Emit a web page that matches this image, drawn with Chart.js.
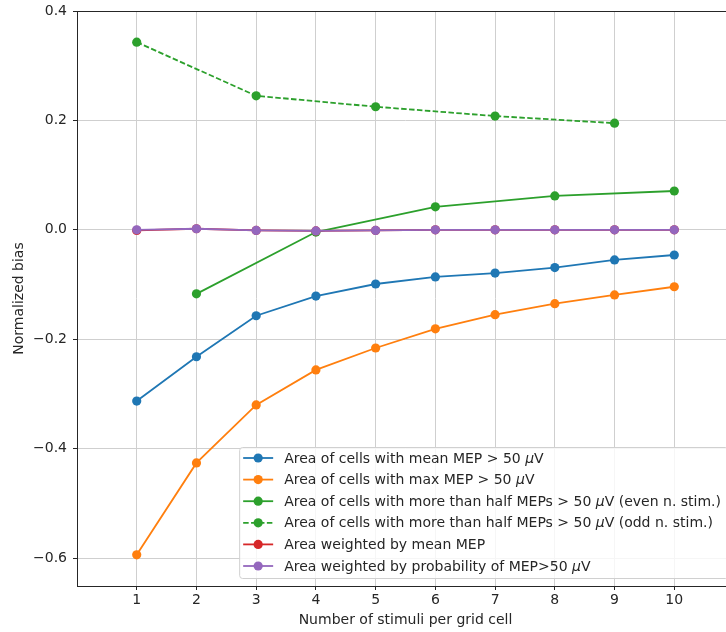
<!DOCTYPE html>
<html>
<head>
<meta charset="utf-8">
<script src="https://cdn.jsdelivr.net/npm/chart.js@4.4.1/dist/chart.umd.min.js"></script>
<style>
  html, body { margin: 0; padding: 0; background: #fff; overflow: hidden; }
  #wrap { width: 742px; height: 632px; position: relative; }
</style>
</head>
<body>
<div id="wrap"><canvas id="chart"></canvas></div>
<script>
// values
var stimuli = [1, 2, 3, 4, 5, 6, 7, 8, 9, 10];
var meanMep = [-0.313, -0.232, -0.157, -0.121, -0.099, -0.086, -0.079, -0.069, -0.055, -0.046];
var maxMep = [-0.594, -0.426, -0.320, -0.256, -0.216, -0.181, -0.155, -0.135, -0.119, -0.104];
var evenStim = [2, 4, 6, 8, 10];
var halfEven = [-0.117, -0.004, 0.042, 0.062, 0.071];
var oddStim = [1, 3, 5, 7, 9];
var halfOdd = [0.343, 0.245, 0.225, 0.208, 0.195];
var weightedMean = [-0.001, 0.002, -0.001, -0.002, -0.001, 0.000, 0.000, 0.000, 0.000, 0.000];
var weightedProb = [0.000, 0.002, -0.001, -0.002, -0.001, 0.000, 0.000, 0.000, 0.000, 0.000];
var yTicks = [-0.6, -0.4, -0.2, 0.0, 0.2, 0.4];
var xTicks = stimuli;

var labels = [
    "Area of cells with mean MEP > 50 \u03bcV",
    "Area of cells with max MEP > 50 \u03bcV",
    "Area of cells with more than half MEPs > 50 \u03bcV (even n. stim.)",
    "Area of cells with more than half MEPs > 50 \u03bcV (odd n. stim.)",
    "Area weighted by mean MEP",
    "Area weighted by probability of MEP>50 \u03bcV"
];
var colors = ["#1f77b4", "#ff7f0e", "#2ca02c", "#2ca02c", "#d62728", "#9467bd"];
var dashes = [[], [], [], [5.5, 2.4], [], []];

var FONT = "DejaVu Sans";
var FS = 14;

function pairs(xs, ys) {
    var out = [];
    for (var i = 0; i < xs.length; i++) out.push({x: xs[i], y: ys[i]});
    return out;
}

var series = [
    pairs(stimuli, meanMep),
    pairs(stimuli, maxMep),
    pairs(evenStim, halfEven),
    pairs(oddStim, halfOdd),
    pairs(stimuli, weightedMean),
    pairs(stimuli, weightedProb)
];

var datasets = series.map(function(d, i) {
    return {
        label: labels[i],
        data: d,
        borderColor: colors[i],
        backgroundColor: colors[i],
        borderWidth: 1.8,
        borderDash: dashes[i],
        pointRadius: 4.6,
        pointBorderWidth: 0,
        pointHoverRadius: 4.6,
        tension: 0,
        order: 6 - i
    };
});

function minus(v) {
    return (v < 0 ? "\u2212" : "") + Math.abs(v).toFixed(1);
}

// draws text, with every mu in italic
function drawMixed(ctx, text, x, y, size) {
    var parts = text.split("\u03bc");
    for (var i = 0; i < parts.length; i++) {
        ctx.font = size + "px '" + FONT + "'";
        ctx.fillText(parts[i], x, y);
        x += ctx.measureText(parts[i]).width;
        if (i < parts.length - 1) {
            ctx.font = "italic " + size + "px '" + FONT + "'";
            ctx.fillText("\u03bc", x, y);
            x += ctx.measureText("\u03bc").width;
        }
    }
}

function mixedWidth(ctx, text, size) {
    var parts = text.split("\u03bc");
    var w = 0;
    for (var i = 0; i < parts.length; i++) {
        ctx.font = size + "px '" + FONT + "'";
        w += ctx.measureText(parts[i]).width;
        if (i < parts.length - 1) {
            ctx.font = "italic " + size + "px '" + FONT + "'";
            w += ctx.measureText("\u03bc").width;
        }
    }
    return w;
}

var framePlugin = {
    id: "frame",
    afterDatasetsDraw: function(chart) {
        var ctx = chart.ctx, a = chart.chartArea;
        ctx.save();
        ctx.strokeStyle = "#262626";
        ctx.lineWidth = 1;
        ctx.strokeRect(a.left + 0.5, a.top + 0.5, a.right - a.left, a.bottom - a.top);

        // legend box, lower right inside the axes
        var rowH = 21.6;
        var maxW = 0;
        labels.forEach(function(t) { maxW = Math.max(maxW, mixedWidth(ctx, t, FS)); });
        var w = 4 + 30 + 11 + maxW + 7;
        var h = rowH * (labels.length - 1) + 23;
        var right = a.right - 6, bottom = a.bottom - 8;
        var left = right - w, top = bottom - h;
        ctx.fillStyle = "rgba(255,255,255,0.8)";
        ctx.strokeStyle = "#d0d0d0";
        ctx.beginPath();
        ctx.roundRect(left + 0.5, top + 0.5, w, h, 3);
        ctx.fill();
        ctx.stroke();
        ctx.textBaseline = "middle";
        for (var i = 0; i < labels.length; i++) {
            var cy = top + 11 + i * rowH;
            ctx.strokeStyle = colors[i];
            ctx.lineWidth = 1.8;
            ctx.setLineDash(dashes[i]);
            ctx.beginPath();
            ctx.moveTo(left + 4, cy);
            ctx.lineTo(left + 34, cy);
            ctx.stroke();
            ctx.setLineDash([]);
            ctx.fillStyle = colors[i];
            ctx.beginPath();
            ctx.arc(left + 19, cy, 4.6, 0, Math.PI * 2);
            ctx.fill();
            ctx.fillStyle = "#262626";
            drawMixed(ctx, labels[i], left + 45, cy + 1, FS);
        }
        ctx.restore();
    }
};

new Chart(document.getElementById("chart"), {
    type: "line",
    data: {datasets: datasets},
    plugins: [framePlugin],
    options: {
        responsive: true,
        maintainAspectRatio: false,
        animation: false,
        layout: {padding: {top: 11, right: 8, left: 0, bottom: 0}},
        plugins: {legend: {display: false}, tooltip: {enabled: false}},
        scales: {
            x: {
                type: "linear",
                min: 0,
                max: 11,
                afterBuildTicks: function(s) { s.ticks = xTicks.map(function(v) { return {value: v}; }); },
                afterFit: function(s) { s.height = 46; s.paddingLeft = 0; s.paddingRight = 0; },
                grid: {color: "#cfcfcf", lineWidth: 1, tickColor: "#262626", tickLength: 4},
                border: {display: false},
                ticks: {color: "#262626", font: {family: FONT, size: FS}, padding: 2,
                        maxRotation: 0, autoSkip: false},
                title: {display: true, text: "Number of stimuli per grid cell", color: "#262626",
                        font: {family: FONT, size: FS}, padding: {top: 0, bottom: 3}}
            },
            y: {
                min: -0.651,
                max: 0.4,
                afterBuildTicks: function(s) { s.ticks = yTicks.map(function(v) { return {value: v}; }); },
                afterFit: function(s) { s.width = 77; s.paddingTop = 0; s.paddingBottom = 0; },
                grid: {color: "#cfcfcf", lineWidth: 1, tickColor: "#262626", tickLength: 4},
                border: {display: false},
                ticks: {color: "#262626", font: {family: FONT, size: FS}, padding: 6,
                        callback: function(v) { return minus(v); }},
                title: {display: true, text: "Normalized bias", color: "#262626",
                        font: {family: FONT, size: FS}, padding: {top: 11, bottom: 0}}
            }
        }
    }
});
</script>
</body>
</html>
